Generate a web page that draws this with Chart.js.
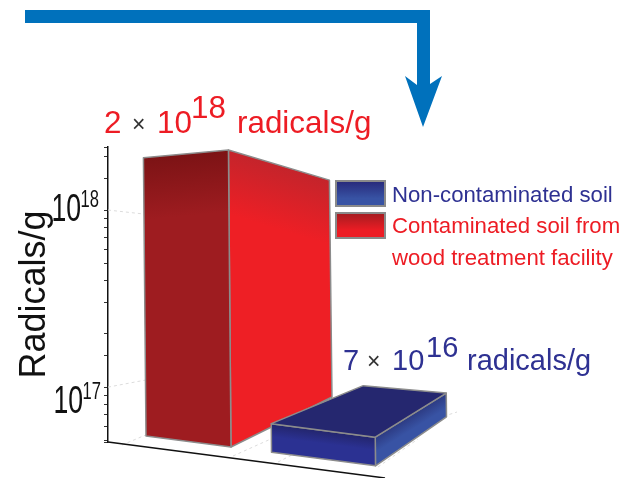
<!DOCTYPE html>
<html>
<head>
<meta charset="utf-8">
<style>html,body{margin:0;padding:0;background:#fff}canvas{display:block}</style>
<script src="https://cdn.jsdelivr.net/npm/chart.js@4"></script>
</head>
<body>
<canvas id="c" width="634" height="478"></canvas>
<script>
// ---- data ----
const categories = ['Contaminated soil from wood treatment facility', 'Non-contaminated soil'];
const contaminatedRadicals = [2e18, null];
const nonContaminatedRadicals = [null, 7e16];
const tickExponents = [17, 18];
const axisTitle = 'Radicals/g';
const legendLines = [['Non-contaminated soil'], ['Contaminated soil from', 'wood treatment facility']];
const contaminatedNote = ['2', '\u00d7', '10', '18', 'radicals/g'];
const nonContaminatedNote = ['7', '\u00d7', '10', '16', 'radicals/g'];

// ---- style ----
const FONT = '"Liberation Sans", Arial, sans-serif';
const RED = '#ed1c24', BLUE = '#2e3192', EDGE = '#8c8c8c', ARROW = '#0071bc';
const view = {shift: 13, slope: 0.13, inset: 11, tilt: 0.009};
const barStyles = [
  {front: ['#7c1315', '#9e1c20'], side: ['#c4242b', '#ee1f25'], grad: 62,
   depth: [101, -50], backScale: 0.73, top: null},
  {front: ['#23256c', '#2b3192'], side: ['#2c3a82', '#3853a4'], grad: 13,
   depth: [71, -49], backScale: 0.83, top: {fill: '#25276f', back: [92, -38]}}
];

function poly(ctx, pts) {
  ctx.beginPath();
  pts.forEach((p, i) => i ? ctx.lineTo(p[0], p[1]) : ctx.moveTo(p[0], p[1]));
  ctx.closePath();
}
function edgeGradient(ctx, a, b, len, colors) {
  const dx = b[0] - a[0], dy = b[1] - a[1], n = Math.hypot(dx, dy);
  const mx = (a[0] + b[0]) / 2, my = (a[1] + b[1]) / 2;
  const nx = -dy / n * (dx > 0 ? 1 : -1), ny = Math.abs(dx / n);
  const g = ctx.createLinearGradient(mx, my, mx + nx * len, my + ny * len);
  g.addColorStop(0, colors[0]);
  g.addColorStop(1, colors[1]);
  return g;
}
function face(ctx, pts, fill) {
  poly(ctx, pts);
  ctx.fillStyle = fill;
  ctx.fill();
  ctx.strokeStyle = EDGE;
  ctx.lineWidth = 1.5;
  ctx.lineJoin = 'round';
  ctx.stroke();
}

const bars3d = {
  id: 'bars3d',
  beforeDatasetDraw() { return false; },
  afterDatasetsDraw(chart) {
    const ctx = chart.ctx, area = chart.chartArea;
    const floorY = x => area.bottom + view.slope * (x - area.left) - view.inset;
    const gain = x => Math.min(1.042, 0.975 + (x - 146) * 0.00078);
    ctx.save();
    chart.data.datasets.forEach((ds, di) => {
      const st = barStyles[di];
      chart.getDatasetMeta(di).data.forEach((el, i) => {
        if (ds.data[i] == null) return;
        const h = el.base - el.y;
        const x0 = el.x - el.width / 2 + view.shift, x1 = el.x + el.width / 2 + view.shift;
        const h0 = h * gain(x0), h1 = h * gain(x1);
        const fl = [x0, floorY(x0)], fr = [x1, floorY(x1)];
        const tl = [x0 - view.tilt * h, fl[1] - h0], tr = [x1 - view.tilt * h, fr[1] - h1];
        const bf = [x1 + st.depth[0], fr[1] + st.depth[1]];
        const bt = [bf[0] - view.tilt * h, bf[1] - h1 * st.backScale];
        face(ctx, [tr, bt, bf, fr], edgeGradient(ctx, tr, bt, st.grad, st.side));
        face(ctx, [tl, tr, fr, fl], edgeGradient(ctx, tl, tr, st.grad, st.front));
        if (st.top) {
          const bl = [tl[0] + st.top.back[0], tl[1] + st.top.back[1]];
          face(ctx, [tl, tr, bt, bl], st.top.fill);
        }
      });
    });
    ctx.restore();
  }
};

function squeezedText(ctx, text, rightX, baseY, size, sx) {
  ctx.save();
  ctx.translate(rightX, baseY);
  ctx.scale(sx, 1);
  ctx.font = size + 'px ' + FONT;
  ctx.textAlign = 'right';
  ctx.fillStyle = '#111';
  ctx.fillText(text, 0, 0);
  ctx.restore();
}
function noteParts(ctx, parts, color, x, base, sup, size) {
  const put = (t, px, py, s, c) => {
    ctx.font = s + 'px ' + FONT;
    ctx.fillStyle = c;
    ctx.fillText(t, px, py);
  };
  put(parts[0], x[0], base, size, color);
  put(parts[1], x[1], base - 1, 23, '#333');
  put(parts[2], x[2], base, size, color);
  put(parts[3], x[3], base - sup, size, color);
  put(parts[4], x[4], base, size, color);
}

const decor = {
  id: 'decor',
  beforeDatasetsDraw(chart) {
    // faint grid lines running on the back walls and the floor
    const ctx = chart.ctx, y = chart.scales.y, a = chart.chartArea;
    ctx.save();
    ctx.strokeStyle = '#dcdcdc';
    ctx.lineWidth = 1;
    ctx.setLineDash([3, 3]);
    const seg = (x0, y0, x1, y1) => { ctx.beginPath(); ctx.moveTo(x0, y0); ctx.lineTo(x1, y1); ctx.stroke(); };
    seg(a.left, y.getPixelForValue(1e18), a.left + 36, y.getPixelForValue(1e18) + 4);
    seg(a.left, y.getPixelForValue(1e17), a.left + 37, y.getPixelForValue(1e17) - 7);
    seg(a.left + 14, a.bottom + 3, a.left + 40, a.bottom - 8);
    seg(a.left + 125, a.bottom + 14, a.left + 165, a.bottom - 4);
    seg(a.left + 170, a.bottom + 20, a.left + 200, a.bottom + 5);
    seg(a.left + 290, a.bottom - 11, a.left + 349, a.bottom - 30);
    seg(a.left + 270, a.bottom + 25, a.left + 310, a.bottom - 3);
    ctx.restore();
  },
  afterDraw(chart) {
    const ctx = chart.ctx, y = chart.scales.y, a = chart.chartArea;
    ctx.save();
    // floor axis
    ctx.strokeStyle = '#111';
    ctx.lineWidth = 1.5;
    ctx.beginPath();
    ctx.moveTo(a.left, a.bottom);
    ctx.lineTo(a.right + 7, a.bottom + 36);
    ctx.stroke();

    // decade tick labels with raised exponents
    const labelPlace = {17: {right: 101, dy: 26}, 18: {right: 99, dy: 11}};
    tickExponents.forEach(e => {
      const p = labelPlace[e], py = y.getPixelForValue(Math.pow(10, e));
      squeezedText(ctx, String(e), p.right, py + p.dy - 14, 23, 0.72);
      squeezedText(ctx, '10', p.right - 18, py + p.dy, 38, 0.7);
    });

    // arrow
    ctx.fillStyle = ARROW;
    poly(ctx, [[25, 10], [430, 10], [430, 84], [442, 76], [423, 127], [405, 76], [417, 85], [417, 23], [25, 23]]);
    ctx.fill();

    // value notes
    ctx.textAlign = 'left';
    ctx.textBaseline = 'alphabetic';
    noteParts(ctx, contaminatedNote, RED, [104, 132, 157, 191, 237], 133, 15, 31.4);
    noteParts(ctx, nonContaminatedNote, BLUE, [343, 367, 392, 426, 467], 370, 13, 29);

    // legend
    const swatches = [
      {y: 181, colors: ['#27297a', '#3853a4'], color: BLUE, base: 202},
      {y: 213, colors: ['#a31c20', '#ed1c24'], color: RED, base: 233}
    ];
    swatches.forEach((s, i) => {
      const g = ctx.createLinearGradient(0, s.y, 0, s.y + 25);
      g.addColorStop(0, s.colors[0]);
      g.addColorStop(0.7, s.colors[1]);
      ctx.fillStyle = g;
      ctx.fillRect(336, s.y, 49, 25);
      ctx.strokeStyle = '#8a8a8a';
      ctx.lineWidth = 2;
      ctx.strokeRect(336, s.y, 49, 25);
      ctx.font = '22.2px ' + FONT;
      ctx.fillStyle = s.color;
      legendLines[i].forEach((t, j) => ctx.fillText(t, 392, s.base + j * 32));
    });
    ctx.restore();
  }
};

new Chart(document.getElementById('c'), {
  type: 'bar',
  data: {
    labels: categories,
    datasets: [
      {label: categories[0], data: contaminatedRadicals, backgroundColor: '#9e1c20', barThickness: 85},
      {label: categories[1], data: nonContaminatedRadicals, backgroundColor: BLUE, barThickness: 104}
    ]
  },
  plugins: [decor, bars3d],
  options: {
    responsive: false,
    animation: false,
    devicePixelRatio: 1,
    grouped: false,
    layout: {padding: {top: 147, left: 0, right: 256, bottom: 36}},
    plugins: {legend: {display: false}, tooltip: {enabled: false}, title: {display: false}},
    scales: {
      x: {
        afterFit(s) { s.height = 0; },
        ticks: {display: false},
        grid: {display: false},
        border: {display: false}
      },
      y: {
        type: 'logarithmic',
        min: 4.9e16,
        max: 2.27e18,
        afterFit(s) { s.width = 108; },
        title: {display: true, text: axisTitle, color: '#111', padding: {top: 13, bottom: 0},
                font: {family: FONT, size: 36, weight: 'normal'}},
        ticks: {display: false, autoSkip: false},
        grid: {drawOnChartArea: false, drawTicks: true, tickLength: 4, tickColor: '#333', tickWidth: 1},
        border: {display: true, color: '#111', width: 1.5}
      }
    }
  }
});
</script>
</body>
</html>
